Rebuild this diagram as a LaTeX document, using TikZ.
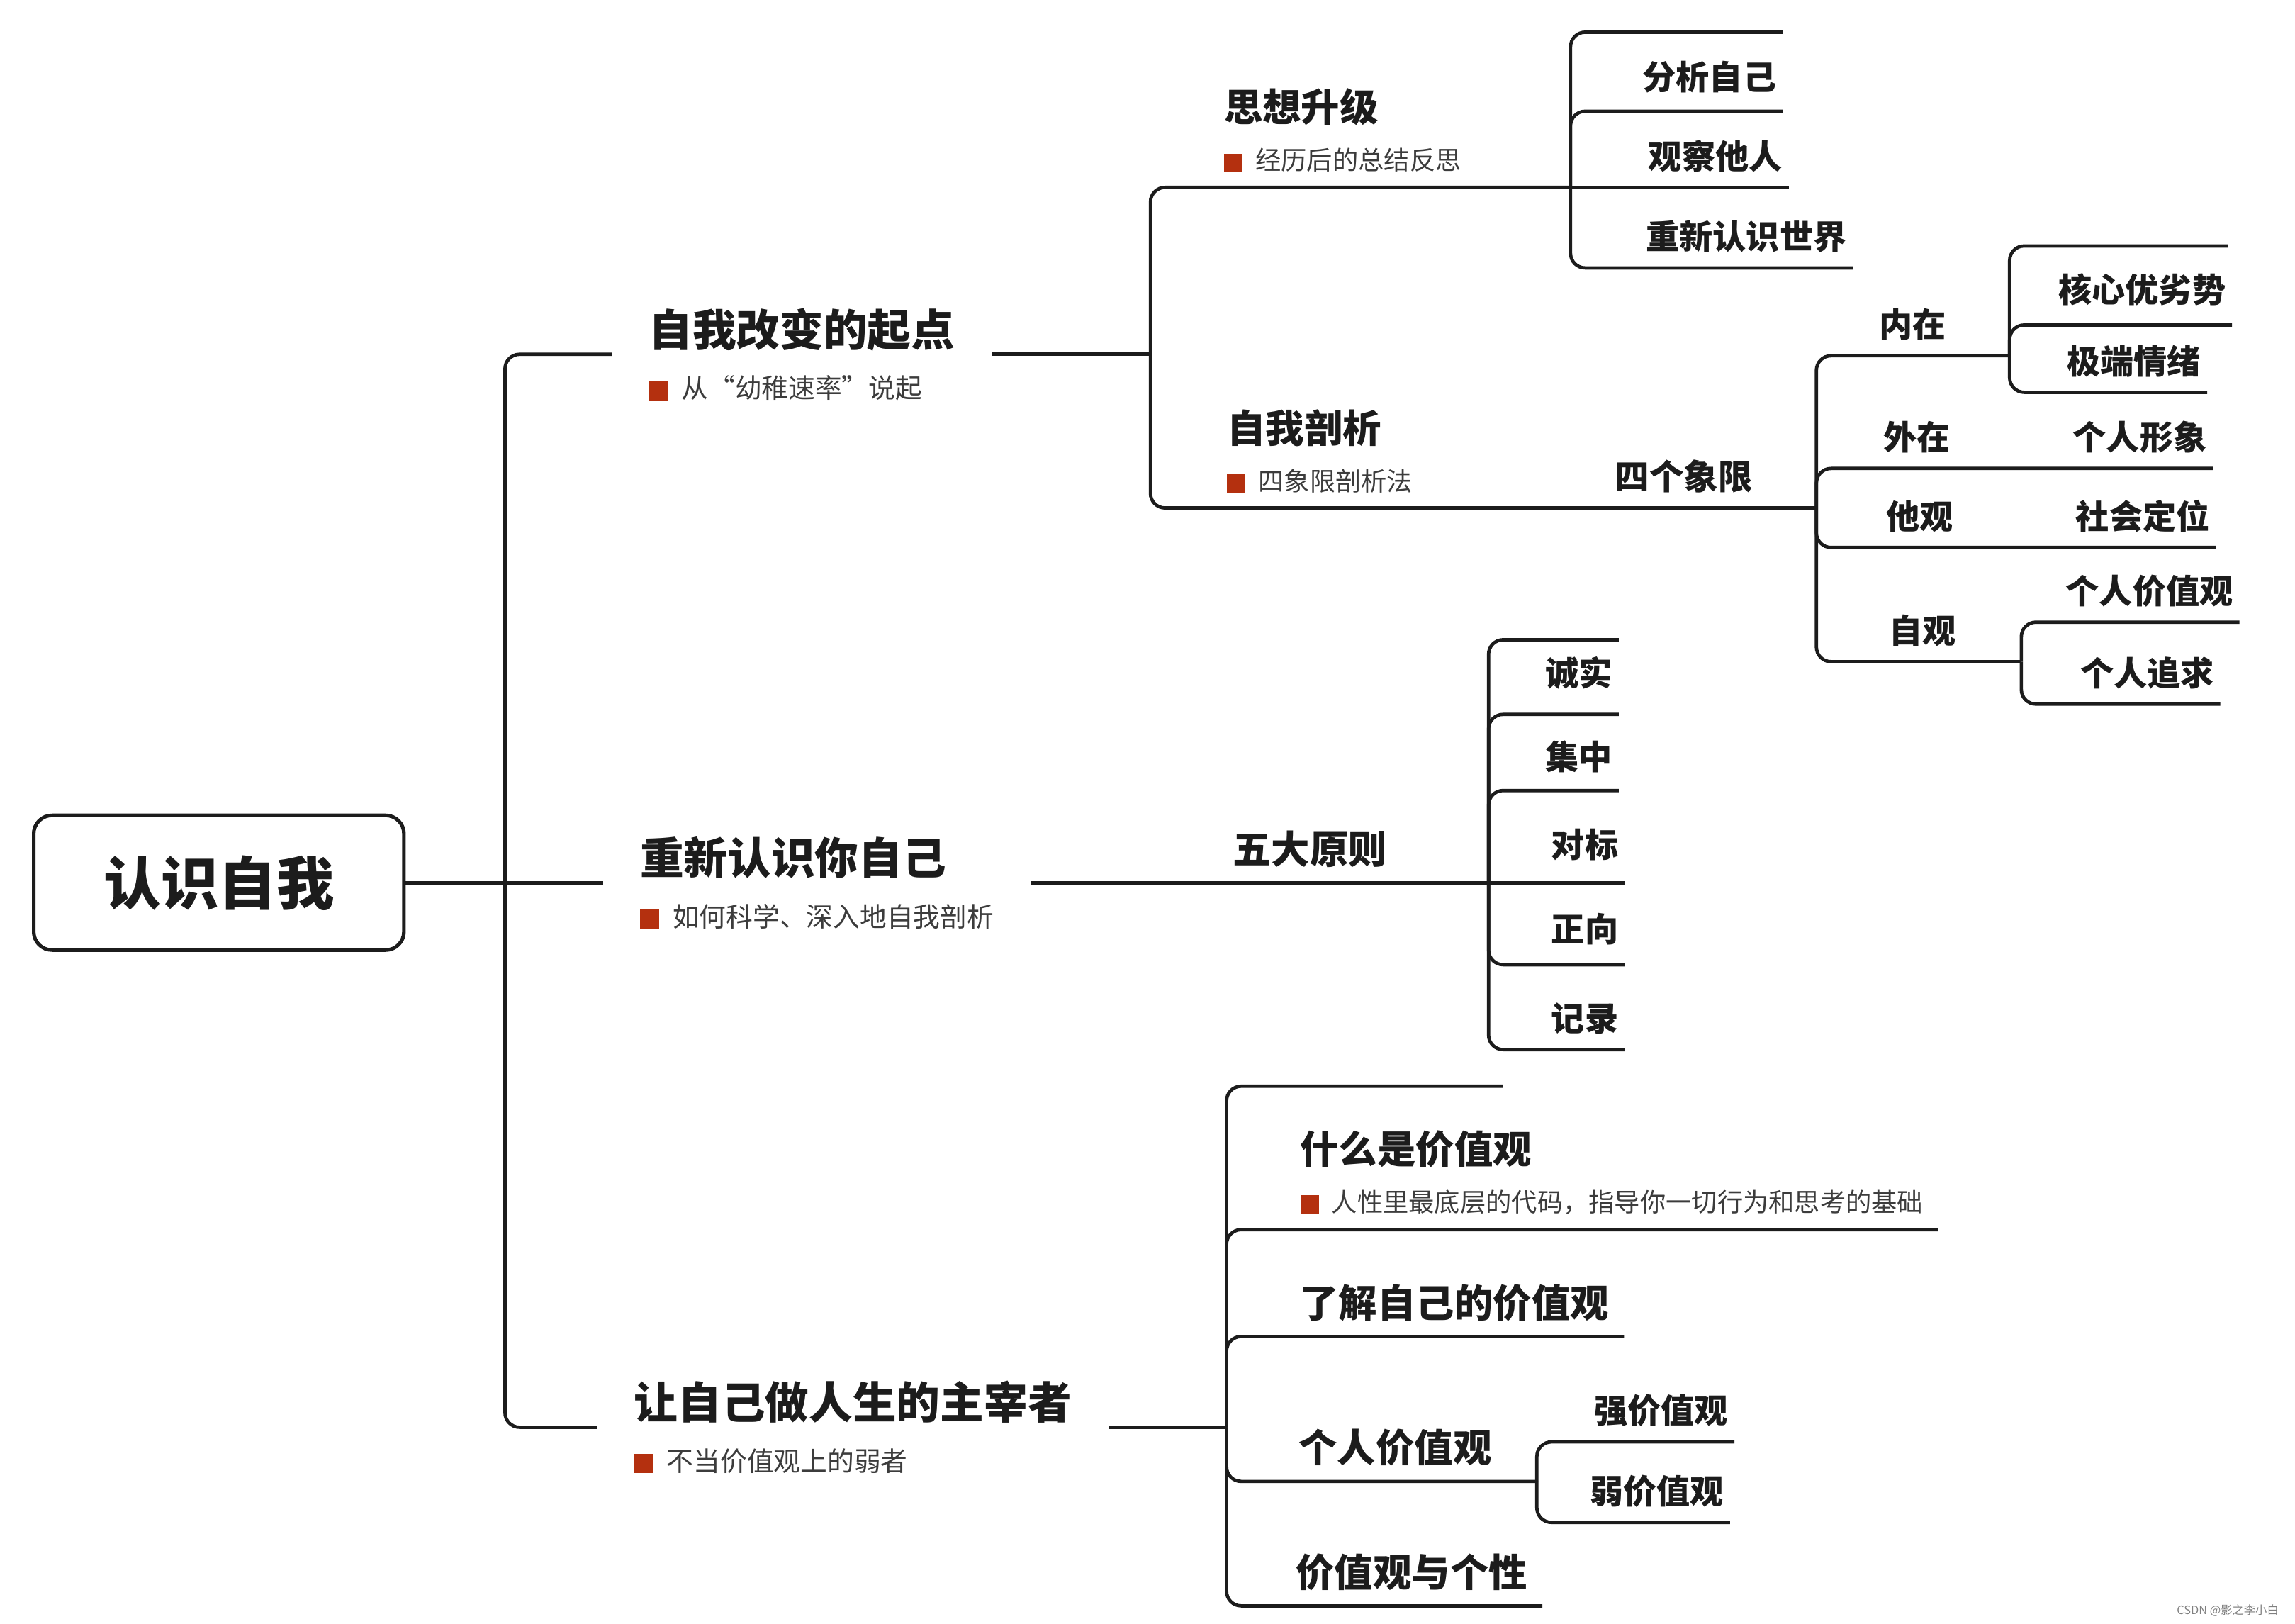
\documentclass[tikz,border=0pt]{standalone}
\usepackage{fontspec}
\setmainfont{Noto Sans CJK SC}
\definecolor{bulletred}{HTML}{B4300F}
\definecolor{notegray}{HTML}{3C3C3C}
\definecolor{inkblack}{HTML}{1C1C1C}
\newcommand{\bsq}{\textcolor{bulletred}{\rule[-0.08em]{0.72em}{0.72em}}\hspace{0.5em}}
\newcommand{\topictitle}[1]{{\fontsize{17}{20}\selectfont\bfseries #1}}
\newcommand{\subnote}[1]{{\mdseries\fontsize{10}{12}\selectfont\color{notegray}\bsq #1}}
\tikzset{
  link/.style={draw=inkblack, line width=1.3pt, rounded corners=0.2cm},
  root/.style={draw=inkblack, line width=1.4pt, rounded corners=0.25cm, minimum width=5.06cm, minimum height=1.84cm, text=inkblack, font=\fontsize{22.4}{26}\selectfont\bfseries},
  topic/.style={align=left, inner xsep=0.5cm, inner ysep=0pt, anchor=west, text=inkblack, font=\fontsize{10.4}{20.3}\selectfont},
  sub/.style={align=left, inner xsep=0.2cm, inner ysep=0.2cm, anchor=south west, text=inkblack, font=\fontsize{15}{18.8}\selectfont\bfseries},
  leaf/.style={inner xsep=0.08cm, inner ysep=0.2cm, anchor=south east, text=inkblack, font=\fontsize{13}{15}\selectfont\bfseries},
  mid/.style={leaf, inner xsep=0.15cm, anchor=south west},
}
\begin{document}
\begin{tikzpicture}[x=0.02cm, y=-0.02cm]
\useasboundingbox (0,0) rectangle (1568,1109);

\node (self) at (149.5,603) [root] {认识自我};

\node (kaishi) at (418,242) [topic] {\topictitle{自我改变的起点}\\{\color{notegray}\bsq 从“幼稚速率”说起}};
\node (chongxin) at (412,603) [topic] {\topictitle{重新认识你自己}\\{\color{notegray}\bsq 如何科学、深入地自我剖析}};
\node (zhuzai) at (408,975) [topic] {\topictitle{让自己做人生的主宰者}\\{\color{notegray}\bsq 不当价值观上的弱者}};

\coordinate (jTrunk) at (345,603);
\coordinate (jKaishi) at (786,242);
\coordinate (jSixiang) at (1073,128);
\coordinate (jXiangxian) at (1241,347);
\coordinate (jNeizai) at (1373,243);
\coordinate (jZiguan) at (1381,452);
\coordinate (jYuanze) at (1017,603);
\coordinate (jZhuzai) at (838,975);
\coordinate (jGeren) at (1050,1012);
\coordinate (capSixiang) at (1218,22);
\coordinate (capNeizai) at (1522,168);
\coordinate (capYuanze) at (1106,437);
\coordinate (capZhuzai) at (1027,742);

\node (sixiang) at (826,128) [sub] {思想升级\\\subnote{经历后的总结反思}};
\node (pouxi) at (828,347) [sub] {自我剖析\\\subnote{四象限剖析法}};
\node (xiangxian) at (1093,347) [sub, font=\fontsize{13.4}{16}\selectfont\bfseries] {四个象限};
\node (yuanze) at (832,603) [sub] {五大原则};
\node (shenme) at (878,840) [sub] {什么是价值观\\\subnote{人性里最底层的代码，指导你一切行为和思考的基础}};
\node (liaojie) at (878,913) [sub] {了解自己的价值观};
\node (gerenjz) at (877,1012) [sub] {个人价值观};
\node (gexing) at (875,1097) [sub] {价值观与个性};

\node (fenxi) at (1218,76) [leaf, inner ysep=0.24cm] {分析自己};
\node (guancha) at (1222,128) [leaf] {观察他人};
\node (shijie) at (1266,183) [leaf] {重新认识世界};

\node (neizai) at (1276,243) [mid] {内在};
\node (waizai) at (1279,320) [mid] {外在};
\node (taguan) at (1281,374) [mid] {他观};
\node (ziguan) at (1283,452) [mid] {自观};
\node (youlie) at (1525,222) [leaf, inner ysep=0.26cm] {核心优劣势};
\node (qingxu) at (1508,268) [leaf] {极端情绪};
\node (xingxiang) at (1512,320) [leaf] {个人形象};
\node (dingwei) at (1514,374) [leaf] {社会定位};
\node (jiazhi) at (1530,425) [leaf] {个人价值观};
\node (zhuiqiu) at (1517,481) [leaf] {个人追求};

\node (chengshi) at (1106,488) [leaf, inner ysep=0.34cm] {诚实};
\node (jizhong) at (1106,540) [leaf, inner ysep=0.24cm] {集中};
\node (duibiao) at (1110,603) [leaf, inner ysep=0.3cm] {对标};
\node (zhengxiang) at (1110,659) [leaf, inner ysep=0.26cm] {正向};
\node (jilu) at (1110,717) [leaf] {记录};

\node (qiang) at (1185,985) [leaf] {强价值观};
\node (ruo) at (1182,1040) [leaf] {弱价值观};

\node (mark) at (1563,1100) [anchor=east, text=gray, font=\fontsize{4.5}{5}\selectfont] {CSDN @影之李小白};

\draw[link] (self.east) -- (chongxin.west);
\draw[link] (jTrunk) |- (kaishi.west);
\draw[link] (jTrunk) |- (zhuzai.west);

\draw[link] (kaishi.east) -- (jKaishi);
\draw[link] (jKaishi) |- (sixiang.south west) -- (jSixiang);
\draw[link] (jKaishi) |- (pouxi.south west) -- (xiangxian.south west) -- (jXiangxian);
\draw[link] (jSixiang) |- (capSixiang);
\draw[link] (jSixiang) |- (fenxi.south east);
\draw[link] (jSixiang) -- (guancha.south east);
\draw[link] (jSixiang) |- (shijie.south east);

\draw[link] (jXiangxian) |- (neizai.south west) -- (jNeizai);
\draw[link] (jXiangxian) |- (waizai.south west) -- (xingxiang.south east);
\draw[link] (jXiangxian) |- (taguan.south west) -- (dingwei.south east);
\draw[link] (jXiangxian) |- (ziguan.south west) -- (jZiguan);
\draw[link] (jNeizai) |- (capNeizai);
\draw[link] (jNeizai) |- (youlie.south east);
\draw[link] (jNeizai) |- (qingxu.south east);
\draw[link] (jZiguan) |- (jiazhi.south east);
\draw[link] (jZiguan) |- (zhuiqiu.south east);

\draw[link] (chongxin.east) -- (yuanze.south west) -- (jYuanze);
\draw[link] (jYuanze) |- (capYuanze);
\draw[link] (jYuanze) |- (chengshi.south east);
\draw[link] (jYuanze) |- (jizhong.south east);
\draw[link] (jYuanze) -- (duibiao.south east);
\draw[link] (jYuanze) |- (zhengxiang.south east);
\draw[link] (jYuanze) |- (jilu.south east);

\draw[link] (zhuzai.east) -- (jZhuzai);
\draw[link] (jZhuzai) |- (capZhuzai);
\draw[link] (jZhuzai) |- (shenme.south east);
\draw[link] (jZhuzai) |- (liaojie.south east);
\draw[link] (jZhuzai) |- (gerenjz.south west) -- (jGeren);
\draw[link] (jZhuzai) |- (gexing.south east);
\draw[link] (jGeren) |- (qiang.south east);
\draw[link] (jGeren) |- (ruo.south east);
\end{tikzpicture}
\end{document}
